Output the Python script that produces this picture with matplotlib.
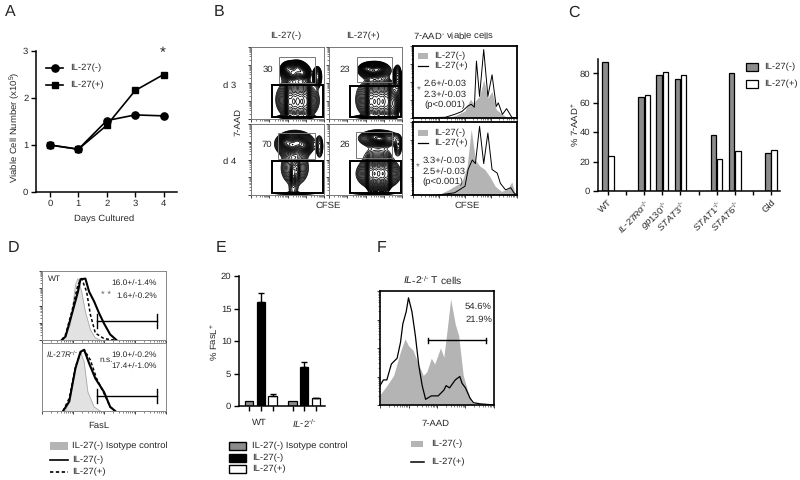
import numpy as np
import matplotlib
matplotlib.use('Agg')
import matplotlib.pyplot as plt
from matplotlib.patches import Rectangle

plt.rcParams['font.family'] = ['Liberation Sans', 'DejaVu Sans']
plt.rcParams['mathtext.fontset'] = 'custom'
plt.rcParams['mathtext.rm'] = 'Liberation Sans'
plt.rcParams['mathtext.it'] = 'Liberation Sans:italic'
plt.rcParams['mathtext.bf'] = 'Liberation Sans:bold'
plt.rcParams['mathtext.default'] = 'regular'
plt.rcParams['text.hinting'] = 'no_hinting'

GRAY = '#8c8c8c'
FILL = '#b4b4b4'
INK = '#262626'
KO = '^{\u2010/\u2010}'

# A - viable cell number
days = [0, 1, 2, 3, 4]
cells_minus = [1.0, 0.91, 1.52, 1.64, 1.62]
cells_plus = [1.0, 0.91, 1.42, 2.16, 2.5]

# B - contour blobs (x, y, sx, sy, weight), one list per plot
blobs_d3_minus = [(61, 66, 10, 8, .5), (50, 70, 4, 4, .7), (57, 63, 4, 4, .7), (64, 70, 4, 4, .7), (71, 64, 4, 4, .7),
                  (91, 59, 3, 7, .5), (64, 24, 14, 13, .6), (52, 24, 2.5, 13, .7), (58, 24, 2.5, 13, .7), (64, 24, 2.5, 13, .7),
                  (70, 24, 2.5, 13, .7), (76, 24, 2.5, 13, .6), (62, 42, 18, 14, .08), (60, 3, 20, 1.5, .12)]
blobs_d3_plus = [(62, 68, 11, 6, .6), (52, 70, 4, 3, .7), (60, 67, 4, 3, .8), (68, 69, 4, 3, .7), (94, 58, 3, 9, .4),
                 (68, 24, 15, 13, .6), (56, 24, 2.5, 13, .7), (62, 24, 2.5, 13, .7), (68, 24, 2.5, 13, .7), (74, 24, 2.5, 13, .7),
                 (80, 24, 2.5, 13, .6), (88, 20, 4, 10, .25), (66, 44, 20, 10, .08), (60, 3, 24, 1.5, .12)]
blobs_d4_minus = [(60, 72, 13, 9, .7), (48, 74, 4, 4, .6), (56, 70, 4, 4, .7), (64, 74, 4, 4, .7), (72, 70, 4, 4, .5),
                  (94, 68, 3, 10, .2), (60, 38, 11, 14, .3), (58, 30, 2, 8, .4), (63, 36, 2, 8, .3), (58, 5, 5, 7, .1),
                  (60, 2, 26, 1.2, .12)]
blobs_d4_plus = [(68, 80, 14, 6, .5), (62, 82, 4, 3, .6), (70, 79, 4, 3, .7), (95, 70, 3, 8, .2), (66, 58, 20, 9, .08),
                 (68, 30, 15, 11, .6), (56, 30, 2.5, 11, .6), (62, 30, 2.5, 11, .7), (68, 30, 2.5, 11, .7), (74, 30, 2.5, 11, .7),
                 (80, 30, 2.5, 11, .6), (60, 2, 26, 1.2, .12)]

# B - CFSE histograms
cfse3_fill_x = [30, 40, 50, 55, 58, 64, 68, 72, 76, 80, 86, 90, 94]
cfse3_fill_y = [0, 3, 10, 26, 21, 30, 53, 28, 37, 12, 5, 1, 0]
cfse3_line_x = [0, 31, 40, 47, 53, 56, 59, 61, 64, 68, 72, 76, 80, 82, 86, 90, 95, 100]
cfse3_line_y = [0, 1, 5, 9, 17, 19, 15, 79, 30, 95, 30, 60, 16, 21, 5, 13, 1, 0]
cfse4_fill_x = [24, 34, 47, 52, 56, 60, 64, 69, 74, 79, 85, 91, 95, 98]
cfse4_fill_y = [0, 7, 18, 39, 90, 48, 40, 35, 25, 12, 5, 8, 18, 2]
cfse4_line_x = [24, 40, 50, 53, 57, 60, 64, 68, 72, 76, 81, 84, 89, 94, 97, 100]
cfse4_line_y = [0, 3, 12, 35, 48, 43, 94, 43, 85, 35, 30, 16, 7, 10, 3, 0]

# C - % 7-AAD
c_labels = ['WT', '', '$\\mathit{IL\u201027R\\alpha}' + KO + '$', '$\\mathit{gp130}' + KO + '$', '$\\mathit{STAT3}' + KO + '$', '',
            '$\\mathit{STAT1}' + KO + '$', '$\\mathit{STAT6}' + KO + '$', '', 'Gld']
c_minus = [88, np.nan, 64, 78.5, 76, np.nan, 38, 80, np.nan, 26]
c_plus = [24, np.nan, 65, 81, 79, np.nan, 21.5, 27, np.nan, 28]

# D - FasL histograms
wt_iso_x = [17, 19, 23, 27, 29, 32, 35, 39, 43, 47]
wt_iso_y = [0, 5, 22, 80, 89, 70, 41, 15, 3, 0]
wt_minus_x = [16, 19, 24, 29, 31, 35, 38, 42, 46, 50, 55, 60]
wt_minus_y = [0, 5, 37, 70, 88, 89, 70, 56, 39, 24, 8, 0]
wt_plus_x = [16, 19, 24, 29, 32, 36, 39, 43, 50, 58]
wt_plus_y = [0, 8, 41, 80, 89, 70, 37, 10, 2, 0]
ko_iso_x = [19, 23, 27, 31, 34, 37, 42, 47]
ko_iso_y = [0, 19, 63, 87, 72, 28, 6, 0]
ko_minus_x = [17, 22, 27, 31, 34, 38, 43, 50, 55, 59]
ko_minus_y = [0, 14, 63, 87, 90, 70, 48, 28, 6, 0]
ko_plus_x = [17, 22, 27, 31, 34, 39, 44, 50, 55, 59]
ko_plus_y = [0, 19, 65, 85, 90, 75, 48, 26, 6, 0]

# E - % FasL
e_groups = ['WT', '$\\mathit{IL\u20102}' + KO + '$']
e_iso = [0.8, 0.7]
e_minus = [16.0, 6.0]
e_plus = [1.6, 1.2]
e_minus_err = [1.4, 0.7]
e_plus_err = [0.2, 0.05]

# F - 7-AAD histogram
f_fill_x = [0, 6, 12, 18, 22, 25, 29, 34, 38, 41, 45, 48, 53, 56, 59, 62, 66, 69, 73, 77, 80, 83]
f_fill_y = [9, 17, 26, 47, 58, 52, 48, 35, 26, 29, 41, 36, 50, 42, 67, 93, 71, 61, 26, 12, 3, 0]
f_line_x = [0, 3, 6, 10, 15, 18, 20, 23, 25, 28, 31, 34, 37, 40, 45, 51, 56, 58, 61, 66, 70, 72, 75, 79, 82, 88, 100]
f_line_y = [17, 22, 22, 36, 41, 55, 71, 82, 94, 82, 61, 35, 17, 5, 8, 8, 13, 17, 15, 22, 25, 19, 15, 6, 2, 1, 0]

fig = plt.figure(figsize=(8, 4.8), dpi=100)


def ax_px(l, t, r, b):
    return fig.add_axes([l / 800, 1 - b / 480, (r - l) / 800, (b - t) / 480])


def log_ticks(ax, xaxis=True, yaxis=True):
    major = [0, 25, 50, 75, 100]
    minor = [b + 25 * np.log10(k) for b in major[:-1] for k in range(2, 10)]
    ax.set_xlim(0, 100)
    ax.set_ylim(0, 100)
    ax.set_xticks(major if xaxis else [])
    ax.set_yticks(major if yaxis else [])
    ax.set_xticks(minor if xaxis else [], minor=True)
    ax.set_yticks(minor if yaxis else [], minor=True)
    ax.tick_params(labelbottom=False, labelleft=False, length=2.5, width=0.6, color=INK)
    ax.tick_params(which='minor', length=1.2, width=0.4, color=INK)


def frame(ax, color, lw):
    for s in ax.spines.values():
        s.set_color(color)
        s.set_linewidth(lw)


def clean(ax):
    ax.spines['top'].set_visible(False)
    ax.spines['right'].set_visible(False)
    ax.spines['left'].set_linewidth(1.1)
    ax.spines['bottom'].set_linewidth(1.1)
    ax.tick_params(length=3.5, width=1.0, labelsize=6.8, pad=2, labelcolor=INK)


# Panel A
ax = ax_px(36, 51, 177, 192)
ax.plot(days, cells_minus, '-o', color='k', lw=1.2, ms=5.2)
ax.plot(days, cells_plus, '-s', color='k', lw=1.2, ms=5)
ax.set_xlim(-0.49, 4.47)
ax.set_ylim(0, 3)
ax.set_xticks(days)
ax.set_yticks([0, 1, 2, 3])
clean(ax)

# Panel B contours
xx, yy = np.meshgrid(np.linspace(0, 100, 220), np.linspace(0, 100, 220))
contour_sets = [((251, 47, 324, 119), blobs_d3_minus), ((329, 47, 402, 119), blobs_d3_plus),
                ((251, 124, 324, 195), blobs_d4_minus), ((329, 124, 402, 195), blobs_d4_plus)]
for box, blobs in contour_sets:
    ax = ax_px(*box)
    z = sum(w * np.exp(-((xx - x) / sx) ** 2 / 2 - ((yy - y) / sy) ** 2 / 2) for x, y, sx, sy, w in blobs)
    ax.contour(xx, yy, z, levels=np.geomspace(0.07, 1.5, 24), colors='k', linewidths=0.55)
    log_ticks(ax)
    frame(ax, '#777777', 0.7)

# Panel B histograms
hist_sets = [((413, 46, 517, 118), cfse3_fill_x, cfse3_fill_y, cfse3_line_x, cfse3_line_y),
             ((413, 122, 517, 195), cfse4_fill_x, cfse4_fill_y, cfse4_line_x, cfse4_line_y)]
for box, fx, fy, lx, ly in hist_sets:
    ax = ax_px(*box)
    ax.fill_between(fx, fy, color=FILL, lw=0)
    ax.plot(lx, ly, color='k', lw=0.7)
    log_ticks(ax)
    frame(ax, 'k', 1.3)

# Panel C
ax = ax_px(598, 59, 780, 191)
pos = np.arange(len(c_labels))
ax.bar(pos - 0.17, c_minus, 0.3, color=GRAY, edgecolor='k', lw=0.9)
ax.bar(pos + 0.17, c_plus, 0.3, color='white', edgecolor='k', lw=0.9)
ax.set_xlim(-0.55, 9.5)
ax.set_ylim(0, 89.7)
ax.set_yticks([0, 20, 40, 60, 80])
ax.set_xticks(pos)
ax.set_xticklabels(c_labels, rotation=45, ha='right', rotation_mode='anchor')
clean(ax)
ax.tick_params(axis='x', length=3)

# Panel D
hist_d = [((42, 271, 166, 340), wt_iso_x, wt_iso_y, wt_minus_x, wt_minus_y, wt_plus_x, wt_plus_y),
          ((42, 343, 166, 411), ko_iso_x, ko_iso_y, ko_minus_x, ko_minus_y, ko_plus_x, ko_plus_y)]
for box, ix, iy, mx, my, px, py in hist_d:
    ax = ax_px(*box)
    ax.fill_between(ix, iy, color='#e2e2e2', lw=0)
    ax.plot(ix, iy, color='#aaaaaa', lw=0.6)
    ax.plot(mx, my, color='k', lw=1.5)
    ax.plot(px, py, color='k', lw=1.1, ls=(0, (2, 1.5)))
    log_ticks(ax, yaxis=box[1] == 271)
    frame(ax, '#888888', 0.7)

# Panel E
ax = ax_px(239, 276, 325, 406)
groups = np.array([0.0, 3.72])
ax.bar(groups, e_iso, 0.72, color=GRAY, edgecolor='k', lw=0.9)
ax.bar(groups + 1, e_minus, 0.72, color='k', edgecolor='k', lw=0.9, yerr=[[0, 0], e_minus_err],
       error_kw=dict(ecolor='k', elinewidth=1, capsize=2.2, capthick=1))
ax.bar(groups + 2, e_plus, 0.72, color='white', edgecolor='k', lw=0.9, yerr=[[0, 0], e_plus_err],
       error_kw=dict(ecolor='k', elinewidth=1, capsize=2.2, capthick=1))
ax.set_xlim(-0.88, 6.5)
ax.set_ylim(0, 20)
ax.set_yticks([0, 5, 10, 15, 20])
ax.set_xticks(np.concatenate([groups, groups + 1, groups + 2]))
ax.set_xticklabels([])
clean(ax)

# Panel F
ax = ax_px(380, 291, 494, 405)
ax.fill_between(f_fill_x, f_fill_y, color=FILL, lw=0)
ax.plot(f_line_x, f_line_y, color='k', lw=0.9)
log_ticks(ax)
frame(ax, 'k', 1.2)

# overlay in reference pixels for labels, gates and keys
ov = fig.add_axes([0, 0, 1, 1], zorder=10)
ov.set_xlim(0, 800)
ov.set_ylim(480, 0)
ov.axis('off')
ov.patch.set_alpha(0)


def t(x, y, s, size=6.8, ha='center', color=INK, **kw):
    ov.text(x, y, s, fontsize=size, ha=ha, va='center', color=color, **kw)


def swatch(x0, x1, y, h, fc, ec='none', lw=0):
    ov.add_patch(Rectangle((x0, y - h / 2), x1 - x0, h, facecolor=fc, edgecolor=ec, linewidth=lw))


def bracket(x0, x1, y, cap):
    ov.plot([x0, x1], [y, y], color='k', lw=1)
    ov.plot([x0, x0], [y - cap, y + cap], color='k', lw=1)
    ov.plot([x1, x1], [y - cap, y + cap], color='k', lw=1)


for x, y, s in [(10, 12, 'A'), (219, 12, 'B'), (574, 13, 'C'), (13, 248, 'D'), (221, 248, 'E'), (382, 248, 'F')]:
    t(x, y, s, size=11.5)

# A text
t(15, 127, 'Viable Cell Number (x10$^{5}$)', rotation=90)
t(104, 219, 'Days Cultured')
t(163, 53, '*', size=11)
ov.plot([46, 63], [68, 68], color='k', lw=1.2)
ov.plot([54.5], [68], 'o', color='k', ms=5.2)
ov.plot([46, 63], [85, 85], color='k', lw=1.2)
ov.plot([54.5], [85], 's', color='k', ms=5)
t(70, 68, 'IL-27(-)', ha='left')
t(70, 85, 'IL-27(+)', ha='left')

# B text
t(286, 36, 'IL-27(-)')
t(363, 36, 'IL-27(+)')
t(454, 36, '7-AAD$^{\u2010}$ viable cells')
t(230, 86, 'd 3')
t(230, 162, 'd 4')
t(238, 122, '7-AAD', rotation=90)
t(328, 206, 'CFSE')
t(467, 206, 'CFSE')
for x, y, s in [(268, 70, '30'), (345, 70, '23'), (267, 145, '70'), (345, 145, '26')]:
    t(x, y, s)
gates_thin = [(279, 315, 57, 83), (357, 392, 57, 82), (278, 315, 133, 159), (356, 392, 132, 158)]
gates_thick = [(272, 323, 85, 117), (350, 401, 86, 117), (272, 323, 161, 193), (350, 401, 161, 193)]
for x0, x1, y0, y1 in gates_thin:
    ov.add_patch(Rectangle((x0, y0), x1 - x0, y1 - y0, fill=False, ec='#777777', lw=0.7))
for x0, x1, y0, y1 in gates_thick:
    ov.add_patch(Rectangle((x0, y0), x1 - x0, y1 - y0, fill=False, ec='k', lw=1.4))
for y0, stats, xt, xp in [(56, ['2.6+/-0.03', '2.3+/-0.03', '(p<0.001)'], 424, 424),
                          (133, ['3.3+/-0.03', '2.5+/-0.03', '(p<0.001)'], 423, 422)]:
    swatch(418, 428, y0, 6, FILL)
    ov.plot([418, 428], [y0 + 10, y0 + 10], color='k', lw=0.9)
    t(434, y0, 'IL-27(-)', ha='left')
    t(434, y0 + 10, 'IL-27(+)', ha='left')
    t(xt, y0 + 28, stats[0], ha='left')
    t(xt, y0 + 39, stats[1], ha='left')
    t(xp, y0 + 49, stats[2], ha='left')
    t(xt - 5, y0 + 35, '*', size=7, color='#666666')

# C text
t(574, 125, '% 7-AAD$^{+}$', rotation=90)
swatch(746, 758, 67, 8, GRAY, 'k', 0.9)
swatch(746, 758, 84, 8, 'white', 'k', 0.9)
t(764, 67, 'IL-27(-)', ha='left')
t(764, 84, 'IL-27(+)', ha='left')

# D text
t(48, 279, 'WT', ha='left', size=6)
t(46, 354, '$\\mathit{IL\u201027R}' + KO + '$', ha='left', size=6)
t(157, 283, '16.0+/-1.4%', ha='right', size=6)
t(157, 296, '1.6+/-0.2%', ha='right', size=6)
t(106, 295, '* *', color='#666666')
t(157, 355, '19.0+/-0.2%', ha='right', size=6)
t(157, 366, '17.4+/-1.0%', ha='right', size=6)
t(106, 360, 'n.s.', size=6)
bracket(97, 157, 321, 7)
bracket(97, 157, 396, 7)
t(99, 426, 'FasL')
swatch(50, 68, 446, 8, FILL)
ov.plot([50, 68], [460, 460], color='k', lw=1.2)
ov.plot([50, 68], [472, 472], color='k', lw=1.2, ls=(0, (2, 1.5)))
t(72, 446, 'IL-27(-) Isotype control', ha='left')
t(72, 460, 'IL-27(-)', ha='left')
t(72, 472, 'IL-27(+)', ha='left')

# E text
t(213, 342, '% FasL$^{+}$', rotation=90)
t(259, 423, e_groups[0])
t(304, 423, e_groups[1])
swatch(229, 246, 446, 8, GRAY, 'k', 1)
swatch(229, 246, 458, 8, 'k', 'k', 1)
swatch(229, 246, 469, 8, 'white', 'k', 1)
t(252, 446, 'IL-27(-) Isotype control', ha='left')
t(252, 458, 'IL-27(-)', ha='left')
t(252, 469, 'IL-27(+)', ha='left')

# F text
t(433, 280, '$\\mathit{IL\u20102}' + KO + '$ T cells', size=7.5)
t(492, 307, '54.6%', ha='right')
t(492, 320, '21.9%', ha='right')
bracket(428, 486, 340, 2.5)
t(436, 424, '7-AAD')
swatch(411, 423, 444, 6, FILL)
ov.plot([411, 424], [462, 462], color='k', lw=1.1)
t(431, 444, 'IL-27(-)', ha='left')
t(431, 462, 'IL-27(+)', ha='left')

fig.savefig('out.png', dpi=100)
